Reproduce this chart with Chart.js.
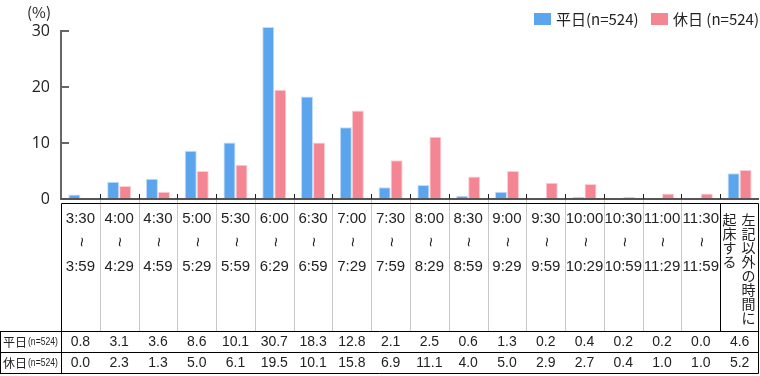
<!DOCTYPE html>
<html>
<head>
<meta charset="utf-8">
<script src="https://cdn.jsdelivr.net/npm/chart.js@4.4.1/dist/chart.umd.min.js"></script>
<style>
  body { margin: 0; background: #fff; }
  #wrap { width: 760px; height: 376px; }
</style>
</head>
<body>
<div id="wrap"><canvas id="chart"></canvas></div>
<script>
// time ranges (from / to), last column is "other time"
const timeFrom = ['3:30', '4:00', '4:30', '5:00', '5:30', '6:00', '6:30', '7:00', '7:30', '8:00', '8:30', '9:00', '9:30', '10:00', '10:30', '11:00', '11:30'];
const timeTo = ['3:59', '4:29', '4:59', '5:29', '5:59', '6:29', '6:59', '7:29', '7:59', '8:29', '8:59', '9:29', '9:59', '10:29', '10:59', '11:29', '11:59'];
const otherLabel = ['左記以外の時間に', '起床する'];
const categories = timeFrom.map((f, i) => f + '〜' + timeTo[i]).concat([otherLabel.join('')]);

const weekday = [0.8, 3.1, 3.6, 8.6, 10.1, 30.7, 18.3, 12.8, 2.1, 2.5, 0.6, 1.3, 0.2, 0.4, 0.2, 0.2, 0.0, 4.6];
const holiday = [0.0, 2.3, 1.3, 5.0, 6.1, 19.5, 10.1, 15.8, 6.9, 11.1, 4.0, 5.0, 2.9, 2.7, 0.4, 1.0, 1.0, 5.2];
const seriesNames = ['平日(n=524)', '休日 (n=524)'];
const rowNames = ['平日', '休日'];
const rowN = '(n=524)';
const yTicks = [0, 10, 20, 30];

const BLUE = '#5ba4ee';
const PINK = '#f48592';
const NUMFONT = '"Liberation Sans", Arial, sans-serif';
const JPFONT = '"Noto Sans CJK JP", sans-serif';

// draws the axis ticks, the data table under the chart and the legend
const tablePlugin = {
    id: 'tablePlugin',
    afterDraw(chart) {
        const ctx = chart.ctx;
        const x = chart.scales.x;
        const y = chart.scales.y;
        const area = chart.chartArea;
        const n = categories.length;
        const cw = (area.right - area.left) / n;
        const bound = i => Math.round(x.getPixelForValue(i) - cw / 2) + 0.5;
        const top = 203.5, rowTop = 331.5, row2 = 352.5, bottom = 373.5;
        const right = Math.round(area.right) - 0.5;

        ctx.save();

        // y ticks pointing into the plot
        ctx.strokeStyle = '#666';
        ctx.lineWidth = 2;
        yTicks.forEach(v => {
            const py = Math.round(y.getPixelForValue(v));
            ctx.beginPath();
            ctx.moveTo(area.left, py);
            ctx.lineTo(area.left + 8, py);
            ctx.stroke();
        });

        // x axis line
        ctx.strokeStyle = '#555';
        ctx.lineWidth = 2;
        ctx.beginPath();
        ctx.moveTo(area.left, 199);
        ctx.lineTo(area.right, 199);
        ctx.stroke();

        // small upward ticks at category boundaries
        ctx.strokeStyle = '#222';
        ctx.lineWidth = 1;
        for (let i = 1; i < n; i++) {
            const bx = bound(i);
            ctx.beginPath();
            ctx.moveTo(bx, 194);
            ctx.lineTo(bx, 199);
            ctx.stroke();
        }

        // grey column separators
        ctx.strokeStyle = '#c8c8c8';
        for (let i = 1; i < n - 1; i++) {
            const bx = bound(i);
            ctx.beginPath();
            ctx.moveTo(bx, 200);
            ctx.lineTo(bx, rowTop);
            ctx.stroke();
        }

        // black frame
        ctx.strokeStyle = '#000';
        ctx.beginPath();
        ctx.moveTo(bound(0), top);
        ctx.lineTo(right, top);
        ctx.moveTo(bound(0), top);
        ctx.lineTo(bound(0), bottom);
        ctx.moveTo(right, top);
        ctx.lineTo(right, bottom);
        ctx.moveTo(bound(n - 1), top);
        ctx.lineTo(bound(n - 1), rowTop);
        [rowTop, row2, bottom].forEach(ly => {
            ctx.moveTo(0, ly);
            ctx.lineTo(right, ly);
        });
        ctx.moveTo(0.5, rowTop);
        ctx.lineTo(0.5, bottom);
        ctx.stroke();

        // category labels
        ctx.fillStyle = '#222';
        ctx.textAlign = 'center';
        ctx.textBaseline = 'middle';
        for (let i = 0; i < timeFrom.length; i++) {
            const cx = x.getPixelForValue(i);
            ctx.font = '15px ' + NUMFONT;
            ctx.fillText(timeFrom[i], cx, 219);
            ctx.fillText(timeTo[i], cx, 267);
            ctx.save();
            ctx.translate(cx, 242);
            ctx.rotate(Math.PI / 2);
            ctx.font = '17px ' + NUMFONT;
            ctx.fillText('~', 0, 0);
            ctx.restore();
        }

        // vertical text in the last column
        const lx = x.getPixelForValue(n - 1);
        ctx.font = '14px ' + JPFONT;
        [...otherLabel[0]].forEach((ch, k) => ctx.fillText(ch, lx + 9, 220 + 14 * k));
        [...otherLabel[1]].forEach((ch, k) => ctx.fillText(ch, lx - 10, 220 + 14 * k));

        // value rows
        ctx.font = '14px ' + NUMFONT;
        for (let i = 0; i < n; i++) {
            const cx = x.getPixelForValue(i);
            ctx.fillText(weekday[i].toFixed(1), cx, 342);
            ctx.fillText(holiday[i].toFixed(1), cx, 363);
        }

        // row labels
        ctx.textAlign = 'left';
        [342, 363].forEach((ry, r) => {
            ctx.font = '12px ' + JPFONT;
            ctx.fillText(rowNames[r], 3, ry);
            ctx.save();
            ctx.translate(28, ry);
            ctx.scale(0.78, 1);
            ctx.font = '11px ' + NUMFONT;
            ctx.fillText(rowN, 0, 0);
            ctx.restore();
        });

        // unit label
        ctx.font = '15px ' + JPFONT;
        ctx.fillText('(%)', 27, 12);

        // legend
        const legend = [[BLUE, seriesNames[0], 534], [PINK, seriesNames[1], 651]];
        legend.forEach(([col, txt, lx0]) => {
            ctx.fillStyle = col;
            ctx.fillRect(lx0, 13, 17, 12);
            ctx.fillStyle = '#222';
            ctx.font = '15px ' + JPFONT;
            ctx.fillText(txt, lx0 + 22, 19);
        });

        ctx.restore();
    }
};

new Chart(document.getElementById('chart'), {
    type: 'bar',
    data: {
        labels: categories,
        datasets: [
            {
                label: seriesNames[0],
                data: weekday,
                backgroundColor: BLUE,
                borderColor: '#c4dcf7',
                borderWidth: 1,
                clip: false
            },
            {
                label: seriesNames[1],
                data: holiday,
                backgroundColor: PINK,
                borderColor: '#fbd0d5',
                borderWidth: 1,
                clip: false
            }
        ]
    },
    options: {
        responsive: true,
        maintainAspectRatio: false,
        devicePixelRatio: 1,
        animation: false,
        categoryPercentage: 0.62,
        barPercentage: 1.0,
        layout: {
            padding: { top: 31, right: 1, bottom: 177, left: 0 }
        },
        plugins: {
            legend: { display: false },
            tooltip: { enabled: false }
        },
        scales: {
            x: {
                display: false
            },
            y: {
                min: 0,
                max: 30,
                afterFit: s => { s.width = 61; },
                afterBuildTicks: s => { s.ticks = yTicks.map(v => ({ value: v })); },
                ticks: {
                    padding: 11,
                    color: '#222',
                    font: { size: 16, family: '"Open Sans", sans-serif' }
                },
                grid: { display: false, drawTicks: false },
                border: { display: true, color: '#666', width: 2 }
            }
        }
    },
    plugins: [tablePlugin]
});
</script>
</body>
</html>
